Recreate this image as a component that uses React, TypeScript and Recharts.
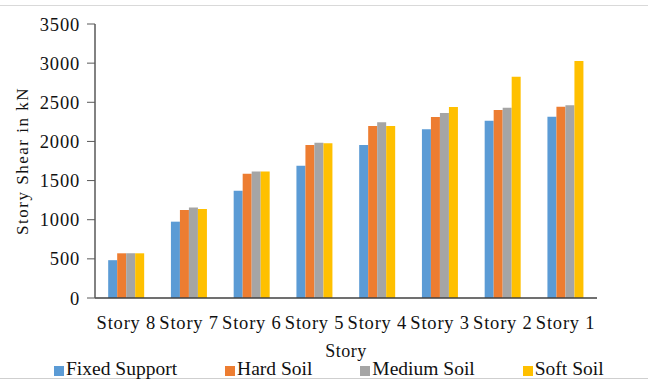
import React from 'react';
import { BarChart, Bar, XAxis, YAxis, Legend, Label } from 'recharts';

// Story shear (kN) per storey for each support condition
const stories = ['Story 8', 'Story 7', 'Story 6', 'Story 5', 'Story 4', 'Story 3', 'Story 2', 'Story 1'];
const fixedSupport = [483, 975, 1371, 1690, 1954, 2155, 2265, 2316];
const hardSoil = [571, 1124, 1586, 1954, 2197, 2312, 2401, 2444];
const mediumSoil = [571, 1156, 1616, 1984, 2244, 2363, 2431, 2461];
const softSoil = [571, 1137, 1616, 1976, 2197, 2440, 2827, 3027];
const yTicks = [0, 500, 1000, 1500, 2000, 2500, 3000, 3500];

const series = [
  { key: 'fixed', name: 'Fixed Support', color: '#5B9BD5' },
  { key: 'hard', name: 'Hard Soil', color: '#ED7D31' },
  { key: 'medium', name: 'Medium Soil', color: '#A5A5A5' },
  { key: 'soft', name: 'Soft Soil', color: '#FFC000' },
];

const data = stories.map((story, i) => ({
  story,
  fixed: fixedSupport[i],
  hard: hardSoil[i],
  medium: mediumSoil[i],
  soft: softSoil[i],
}));

const FONT = '"Liberation Serif", "Times New Roman", serif';
const TEXT = '#111';

const renderLegend = (props: any) => {
  const { payload } = props;
  return (
    <div
      style={{
        display: 'flex',
        paddingLeft: 54,
        gap: 48,
        fontFamily: FONT,
        fontSize: 19.5,
        lineHeight: '20px',
        color: TEXT,
      }}
    >
      {payload.map((entry: any) => (
        <div key={entry.value} style={{ display: 'flex', alignItems: 'flex-end' }}>
          <span
            style={{
              display: 'inline-block',
              width: 10,
              height: 10,
              background: entry.color,
              marginRight: 2,
              marginBottom: 3,
            }}
          />
          <span>{entry.value}</span>
        </div>
      ))}
    </div>
  );
};

export default function App() {
  return (
    <div
      style={{
        position: 'absolute',
        left: 0,
        top: 0,
        width: 648,
        height: 379,
        background: '#fff',
        overflow: 'hidden',
      }}
    >
      <div
        style={{
          position: 'absolute',
          left: 0,
          top: 5,
          width: 648,
          height: 372,
          borderTop: '1px solid #d9d9d9',
          borderBottom: '1px solid #cfcfcf',
        }}
      />
      <BarChart
        width={648}
        height={379}
        data={data}
        margin={{ top: 24, right: 51, bottom: 17, left: 10 }}
        barCategoryGap="21%"
        barGap={0}
      >
        <XAxis
          dataKey="story"
          height={64}
          tickLine={false}
          tickSize={0}
          tickMargin={18}
          interval={0}
          axisLine={{ stroke: '#404040', strokeWidth: 1.5 }}
          tick={{ fill: TEXT, fontFamily: FONT, fontSize: 18.5, letterSpacing: 0.8 }}
        >
          <Label
            value="Story"
            position="insideBottom"
            offset={5}
            style={{ fill: TEXT, fontFamily: FONT, fontSize: 18, letterSpacing: 0.5 }}
          />
        </XAxis>
        <YAxis
          width={85}
          domain={[0, 3500]}
          ticks={yTicks}
          interval={0}
          tickSize={8}
          tickMargin={7}
          axisLine={{ stroke: '#595959', strokeWidth: 1.5 }}
          tickLine={{ stroke: '#595959' }}
          tick={{ fill: TEXT, fontFamily: FONT, fontSize: 18.5, letterSpacing: 0.8 }}
        >
          <Label
            value="Story Shear in kN"
            angle={-90}
            position="insideLeft"
            offset={12}
            style={{ textAnchor: 'middle', fill: TEXT, fontFamily: FONT, fontSize: 17, letterSpacing: 1.5 }}
          />
        </YAxis>
        <Legend
          content={renderLegend}
          layout="horizontal"
          verticalAlign="middle"
          align="center"
          wrapperStyle={{ top: 359, left: 0, width: 648 }}
        />
        {series.map((s) => (
          <Bar key={s.key} dataKey={s.key} name={s.name} fill={s.color} isAnimationActive={false} />
        ))}
      </BarChart>
    </div>
  );
}
